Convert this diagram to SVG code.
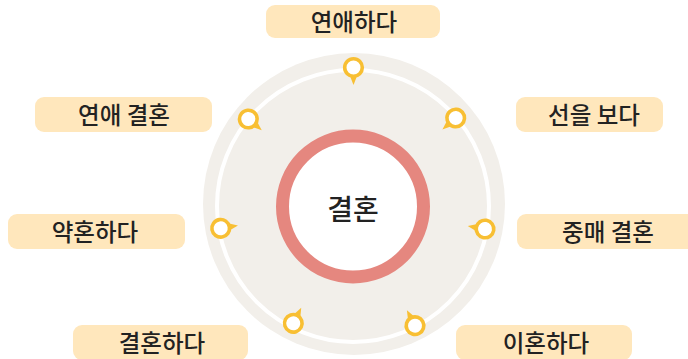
<svg xmlns="http://www.w3.org/2000/svg" width="688" height="359" viewBox="0 0 688 359">
<style>
.lbl rect{fill:#FFE7BC}
.lbl text{font-family:"Noto Sans CJK KR","Noto Sans",sans-serif;font-size:23.5px;fill:#222;text-anchor:middle;font-weight:500}
</style>
<defs>
<g id="pinShape">
<polygon points="6,-4.5 17.5,0 6,4.5" fill="#F8BF33"/>
<circle cx="0" cy="0" r="8.8" fill="#fff" stroke="#F8BF33" stroke-width="3.6"/>
</g>
</defs>
<rect width="688" height="359" fill="#fff"/>
<g id="background">
<circle cx="354" cy="204" r="151" fill="#F2EFEA"/>
<circle cx="353" cy="206" r="136" fill="none" stroke="#fff" stroke-width="4"/>
</g>
<g id="center">
<circle cx="353" cy="206.5" r="70.5" fill="#fff" stroke="#E5877F" stroke-width="13"/>
<text x="353" y="219.5" style="font-family:'Noto Sans CJK KR','Noto Sans',sans-serif;font-size:28px;fill:#222;text-anchor:middle;font-weight:500">결혼</text>
</g>
<g id="pins">
<use href="#pinShape" transform="translate(353.5,67.5) rotate(90)"/>
<use href="#pinShape" transform="translate(455.7,118) rotate(139.4)"/>
<use href="#pinShape" transform="translate(485,229) rotate(-170.1)"/>
<use href="#pinShape" transform="translate(415,325.7) rotate(-117.4)"/>
<use href="#pinShape" transform="translate(293.3,323.3) rotate(-63)"/>
<use href="#pinShape" transform="translate(220.7,228.3) rotate(-9.6)"/>
<use href="#pinShape" transform="translate(248.3,119) rotate(39.7)"/>
</g>
<g id="n1" class="lbl"><rect x="266" y="5" width="174" height="33" rx="9"/><text x="354" y="30.5">연애하다</text></g>
<g id="n2" class="lbl"><rect x="516" y="97" width="147" height="35" rx="9"/><text x="594" y="123.5">선을 보다</text></g>
<g id="n3" class="lbl"><rect x="517" y="214" width="180" height="35" rx="9"/><text x="608" y="240.5">중매 결혼</text></g>
<g id="n4" class="lbl"><rect x="456" y="325" width="176" height="35" rx="9"/><text x="546" y="351.5">이혼하다</text></g>
<g id="n5" class="lbl"><rect x="73" y="325" width="175" height="35" rx="9"/><text x="162" y="351.5">결혼하다</text></g>
<g id="n6" class="lbl"><rect x="8" y="214" width="177" height="35" rx="9"/><text x="95" y="240.5">약혼하다</text></g>
<g id="n7" class="lbl"><rect x="35" y="97" width="177" height="35" rx="9"/><text x="124" y="123.5">연애 결혼</text></g>
</svg>
